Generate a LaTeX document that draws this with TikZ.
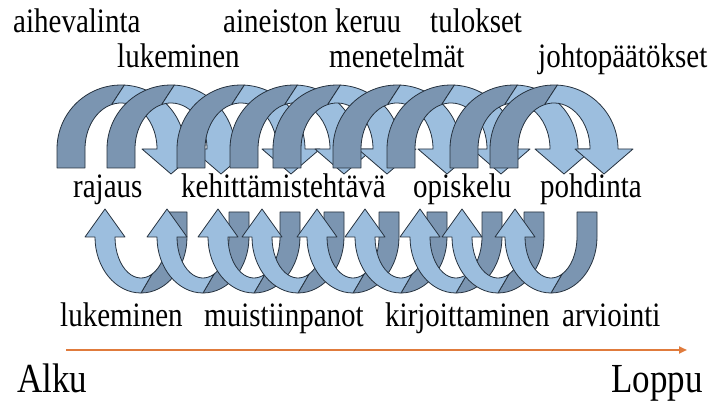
\documentclass[tikz,border=0pt]{standalone}
\usepackage{fontspec}
\setmainfont{Liberation Serif}
\usetikzlibrary{arrows.meta}

\definecolor{backface}{HTML}{7B95B1}
\definecolor{frontface}{HTML}{9CBEDE}
\definecolor{ribbonedge}{HTML}{26323F}
\definecolor{timeline}{HTML}{E07B3C}

\tikzset{
  backpart/.style={fill=backface, draw=ribbonedge, line width=0.8pt, line join=round},
  frontpart/.style={fill=frontface, draw=ribbonedge, line width=0.8pt, line join=round},
  lbl/.style={anchor=base west, inner sep=0pt, font=\fontsize{29}{30}\selectfont, yscale=1.18, transform shape},
  endlbl/.style={anchor=base west, inner sep=0pt, font=\fontsize{35}{37}\selectfont, yscale=1.18, transform shape}
}

% Arch over the top: back part rises on the left, front part comes down with the head
\newcommand\archdown[1]{%
  \pgfmathsetmacro\cx{#1}%
  \path[backpart] ({\cx-64},233) -- ({\cx-64},252)
    arc[start angle=180, end angle=87, x radius=64, y radius=64]
    -- ({\cx+36*cos(105)},{252+46*sin(105)})
    arc[start angle=105, end angle=180, x radius=36, y radius=46]
    -- ({\cx-36},233) -- cycle;
  \path[frontpart] ({\cx+64*cos(87)},{252+64*sin(87)})
    arc[start angle=87, end angle=0, x radius=64, y radius=64]
    -- ({\cx+79},252) -- ({\cx+50},227) -- ({\cx+21},252) -- ({\cx+36},252)
    arc[start angle=0, end angle=105, x radius=36, y radius=46] -- cycle;
}

% Loop underneath: back part falls on the right, front part climbs with the head
\newcommand\loopup[1]{%
  \pgfmathsetmacro\cx{#1+36}%
  \path[backpart] ({\cx+46},189) -- ({\cx+46},164)
    arc[start angle=0, end angle=-90, x radius=46, y radius=56]
    -- ({\cx+26*cos(-65)},{164+41*sin(-65)})
    arc[start angle=-65, end angle=0, x radius=26, y radius=41]
    -- ({\cx+26},189) -- cycle;
  \path[frontpart] ({\cx},108)
    arc[start angle=-90, end angle=-180, x radius=46, y radius=56]
    -- ({\cx-56},164) -- ({\cx-36},192) -- ({\cx-16},164) -- ({\cx-26},164)
    arc[start angle=180, end angle=295, x radius=26, y radius=41] -- cycle;
}

\begin{document}
\begin{tikzpicture}[x=1pt, y=1pt]
  \useasboundingbox (0,0) rectangle (710,401);
  \fill[white] (0,0) rectangle (710,401);

  % upper spiral
  \foreach \c in {121,171,241,294,337,397,451,514,554} { \archdown{\c} }

  % lower spiral
  \foreach \l in {105,167,218,262,317,365,420,462,515} { \loopup{\l} }

  % labels above the spiral
  \node[lbl] (aihe)     at (13,368)  {aihevalinta};
  \node[lbl] (aineisto) at (223,368) {aineiston keruu};
  \node[lbl] (tulos)    at (430,368) {tulokset};
  \node[lbl] (luk1)     at (117,333) {lukeminen};
  \node[lbl] (menet)    at (329,333) {menetelmät};
  \node[lbl] (johto)    at (538,333) {johtopäätökset};

  % labels between the rows
  \node[lbl] (rajaus) at (73,203)  {rajaus};
  \node[lbl] (kehit)  at (181,203) {kehittämistehtävä};
  \node[lbl] (opisk)  at (413,203) {opiskelu};
  \node[lbl] (pohd)   at (540,203) {pohdinta};

  % labels below the spiral
  \node[lbl] (luk2)   at (60,74)   {lukeminen};
  \node[lbl] (muist)  at (204,74)  {muistiinpanot};
  \node[lbl] (kirj)   at (385,74)  {kirjoittaminen};
  \node[lbl] (arvio)  at (562,74)  {arviointi};

  % time line
  \coordinate (tstart) at (66,51);
  \coordinate (tend)   at (687,51);
  \draw[timeline, line width=2pt, -{Triangle[length=8pt, width=7pt]}] (tstart) -- (tend);
  \node[endlbl] (alku)  at (17,8)  {Alku};
  \node[endlbl] (loppu) at (611,8) {Loppu};
\end{tikzpicture}
\end{document}
